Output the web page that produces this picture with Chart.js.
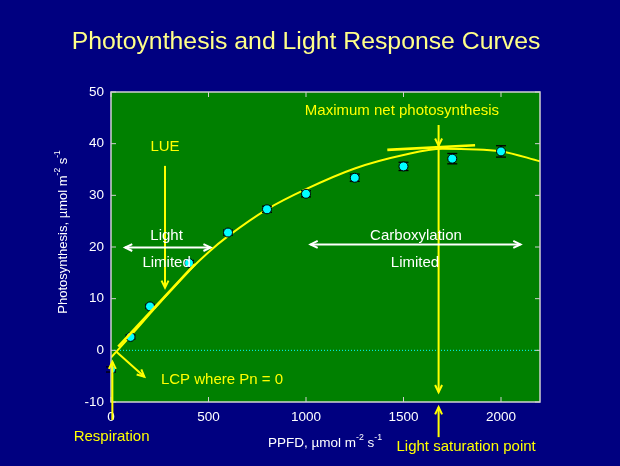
<!DOCTYPE html>
<html>
<head>
<meta charset="utf-8">
<script src="https://cdn.jsdelivr.net/npm/chart.js@4"></script>
<style>
  html, body { margin: 0; padding: 0; background: #000080; }
  canvas { display: block; }
</style>
</head>
<body>
<canvas id="c" width="620" height="466"></canvas>
<script>
// measured points (PPFD, Pn, error)
const ppfd = [0, 100, 200, 400, 600, 800, 1000, 1250, 1500, 1750, 2000];
const pn = [-3.7, 2.6, 8.5, 16.9, 22.8, 27.3, 30.3, 33.4, 35.6, 37.1, 38.5];
const pnErr = [0.5, 0.4, 0.4, 0.5, 0.5, 0.6, 0.6, 0.7, 0.8, 1.0, 1.1];

// fitted curve
const curveX = [0, 100, 200, 300, 400, 500, 600, 800, 1000, 1250, 1500, 1700, 2000, 2200];
const curveY = [-1.4, 2.8, 7.1, 11.3, 15.4, 19.0, 22.1, 27.3, 31.2, 35.2, 37.8, 39.0, 38.5, 36.6];

const xTicks = [0, 500, 1000, 1500, 2000];
const yTicks = [-10, 0, 10, 20, 30, 40, 50];

const FONT = "Arial, 'Liberation Sans', sans-serif";
const YEL = "#ffff00";

function line(ctx, x1, y1, x2, y2) {
  ctx.beginPath();
  ctx.moveTo(x1, y1);
  ctx.lineTo(x2, y2);
  ctx.stroke();
}

// open V arrow head at (x,y) pointing along angle a
function head(ctx, x, y, a, s) {
  s = s || 8;
  ctx.beginPath();
  ctx.moveTo(x - s * Math.cos(a - 0.45), y - s * Math.sin(a - 0.45));
  ctx.lineTo(x, y);
  ctx.lineTo(x - s * Math.cos(a + 0.45), y - s * Math.sin(a + 0.45));
  ctx.stroke();
}

function arrow(ctx, x1, y1, x2, y2, both) {
  line(ctx, x1, y1, x2, y2);
  const a = Math.atan2(y2 - y1, x2 - x1);
  head(ctx, x2, y2, a);
  if (both) head(ctx, x1, y1, a + Math.PI);
}

// draws text with superscripts: parts = [[text, isSup], ...]
function supText(ctx, parts, x, y, size) {
  let w = 0;
  parts.forEach(p => {
    ctx.font = (p[1] ? size * 0.65 : size) + "px " + FONT;
    w += ctx.measureText(p[0]).width;
  });
  let cx = x - w / 2;
  ctx.textAlign = "left";
  ctx.textBaseline = "middle";
  parts.forEach(p => {
    ctx.font = (p[1] ? size * 0.65 : size) + "px " + FONT;
    ctx.fillText(p[0], cx, p[1] ? y - size * 0.4 : y);
    cx += ctx.measureText(p[0]).width;
  });
}

const deco = {
  id: "deco",
  beforeDraw(chart) {
    const { ctx, chartArea: a } = chart;
    ctx.save();
    ctx.fillStyle = "#000080";
    ctx.fillRect(0, 0, chart.width, chart.height);
    ctx.fillStyle = "#008000";
    ctx.fillRect(a.left, a.top, a.right - a.left, a.bottom - a.top);
    ctx.restore();
  },
  beforeDatasetsDraw(chart) {
    const { ctx, scales: { x, y } } = chart;
    ctx.save();
    // zero line
    ctx.strokeStyle = "#00ffff";
    ctx.lineWidth = 1;
    ctx.setLineDash([1, 2]);
    line(ctx, x.getPixelForValue(0), y.getPixelForValue(0), x.getPixelForValue(2200), y.getPixelForValue(0));
    ctx.setLineDash([]);
    ctx.restore();
  },
  beforeDatasetDraw(chart, args) {
    if (args.index !== 1) return;
    const { ctx, scales: { x, y } } = chart;
    ctx.save();
    ctx.strokeStyle = "#000";
    ctx.lineWidth = 1.3;
    ppfd.forEach((v, i) => {
      const px = x.getPixelForValue(v);
      const y1 = y.getPixelForValue(pn[i] - pnErr[i]);
      const y2 = y.getPixelForValue(pn[i] + pnErr[i]);
      line(ctx, px, y1, px, y2);
      line(ctx, px - 5, y1, px + 5, y1);
      line(ctx, px - 5, y2, px + 5, y2);
    });
    ctx.restore();
  },
  afterDraw(chart) {
    const { ctx, chartArea: a, scales: { x, y } } = chart;
    const X = v => x.getPixelForValue(v);
    const Y = v => y.getPixelForValue(v);
    ctx.save();

    // frame and inside ticks
    ctx.strokeStyle = "#d0d0d0";
    ctx.lineWidth = 1.5;
    ctx.strokeRect(a.left, a.top, a.right - a.left, a.bottom - a.top);
    ctx.lineWidth = 1;
    xTicks.forEach(v => {
      line(ctx, X(v), a.bottom, X(v), a.bottom - 5);
      line(ctx, X(v), a.top, X(v), a.top + 5);
    });
    yTicks.forEach(v => {
      line(ctx, a.left, Y(v), a.left + 5, Y(v));
      line(ctx, a.right, Y(v), a.right - 5, Y(v));
    });

    // title
    ctx.fillStyle = "#ffff88";
    ctx.font = "24.8px " + FONT;
    ctx.textAlign = "center";
    ctx.textBaseline = "middle";
    ctx.fillText("Photoynthesis and Light Response Curves", 306, 42);

    // axis titles
    ctx.fillStyle = "#ffffff";
    supText(ctx, [["PPFD, µmol m", 0], ["-2", 1], [" s", 0], ["-1", 1]], 325, 443, 13.5);
    ctx.save();
    ctx.translate(63, 232);
    ctx.rotate(-Math.PI / 2);
    supText(ctx, [["Photosynthesis, µmol m", 0], ["-2", 1], [" s", 0], ["-1", 1]], 0, 0, 13);
    ctx.restore();

    // yellow annotations
    ctx.strokeStyle = YEL;
    ctx.fillStyle = YEL;
    ctx.lineWidth = 2;
    arrow(ctx, X(277), Y(35.7), X(277), Y(12.1));
    arrow(ctx, X(29), Y(-0.3), X(171), Y(-5.1));
    arrow(ctx, X(7), Y(-13.5), X(7), Y(-2.2));
    arrow(ctx, X(1680), Y(-16.8), X(1680), Y(-11.0));
    line(ctx, X(1680), Y(43.6), X(1680), Y(-8.1));
    head(ctx, X(1680), Y(39.6), Math.PI / 2);
    head(ctx, X(1680), Y(-8.1), Math.PI / 2);
    ctx.lineWidth = 2.6;
    line(ctx, X(1417), Y(38.8), X(1867), Y(39.7));
    line(ctx, X(37), Y(0.7), X(431), Y(16.7));

    ctx.font = "15px " + FONT;
    ctx.textAlign = "center";
    ctx.textBaseline = "middle";
    ctx.fillText("LUE", X(277), Y(39.3));
    ctx.fillText("Maximum net photosynthesis", X(1492), Y(46.3));
    ctx.fillText("Light saturation point", X(1821), Y(-18.7));
    ctx.fillText("Respiration", X(3), Y(-16.7));
    ctx.textAlign = "left";
    ctx.fillText("LCP where Pn = 0", X(256), Y(-5.75));

    // white annotations
    ctx.strokeStyle = "#ffffff";
    ctx.fillStyle = "#ffffff";
    ctx.lineWidth = 2;
    arrow(ctx, X(72), Y(19.9), X(511), Y(19.9), true);
    arrow(ctx, X(1023), Y(20.5), X(2100), Y(20.5), true);
    ctx.textAlign = "center";
    ctx.fillText("Light", X(285), Y(22.2));
    ctx.fillText("Limited", X(285), Y(17.0));
    ctx.fillText("Carboxylation", X(1564), Y(22.2));
    ctx.fillText("Limited", X(1559), Y(17.0));

    ctx.restore();
  }
};

new Chart(document.getElementById("c"), {
  type: "scatter",
  data: {
    datasets: [
      {
        label: "fit",
        data: curveX.map((v, i) => ({ x: v, y: curveY[i] })),
        showLine: true,
        borderColor: YEL,
        borderWidth: 2,
        pointRadius: 0,
        tension: 0.4,
        cubicInterpolationMode: "monotone",
        order: 2
      },
      {
        label: "Pn",
        data: ppfd.map((v, i) => ({ x: v, y: pn[i] })),
        backgroundColor: "#00ffff",
        borderColor: "#000000",
        borderWidth: 1,
        pointRadius: 4.5,
        order: 1
      }
    ]
  },
  options: {
    responsive: false,
    animation: false,
    events: [],
    layout: { padding: { top: 92, right: 80, left: 0, bottom: 0 } },
    plugins: { legend: { display: false }, tooltip: { enabled: false } },
    scales: {
      x: {
        type: "linear",
        min: 0,
        max: 2200,
        afterFit: s => { s.height = 64; },
        afterBuildTicks: s => { s.ticks = xTicks.map(v => ({ value: v })); },
        grid: { display: false, drawTicks: false },
        border: { display: false },
        ticks: { color: "#ffffff", padding: 7, font: { size: 13.5, family: FONT }, callback: v => String(v) }
      },
      y: {
        min: -10,
        max: 50,
        afterFit: s => { s.width = 111; },
        afterBuildTicks: s => { s.ticks = yTicks.map(v => ({ value: v })); },
        grid: { display: false, drawTicks: false },
        border: { display: false },
        ticks: { color: "#ffffff", padding: 7, font: { size: 13.5, family: FONT }, callback: v => String(v) }
      }
    }
  },
  plugins: [deco]
});
</script>
</body>
</html>
